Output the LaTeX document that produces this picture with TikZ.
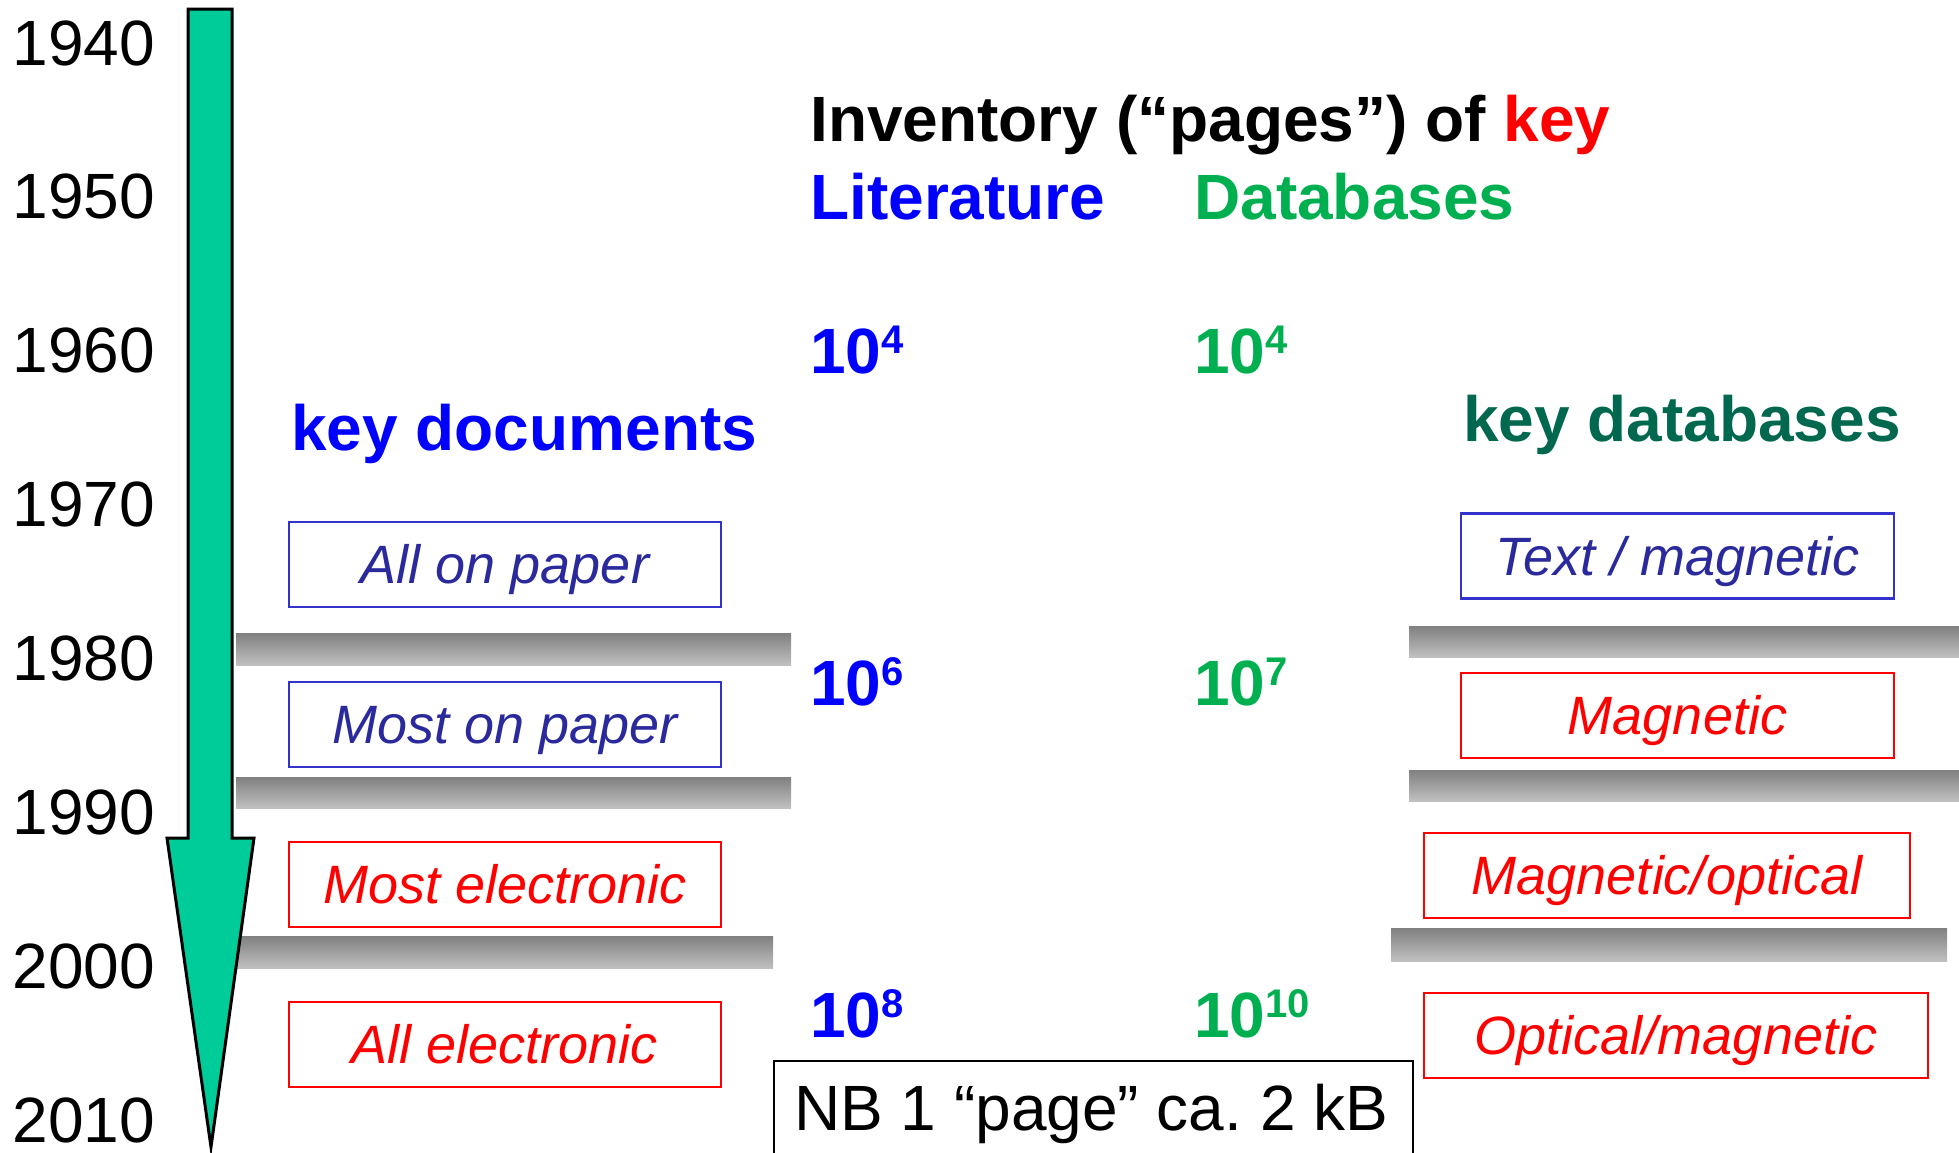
\documentclass[tikz,border=0pt]{standalone}
\usepackage{fontspec}
\setmainfont{Liberation Sans}
\frenchspacing
\definecolor{arrowgreen}{RGB}{0,204,153}
\definecolor{litblue}{RGB}{0,0,255}
\definecolor{dbgreen}{RGB}{0,176,80}
\definecolor{keygreen}{RGB}{0,104,78}
\definecolor{boxblue}{RGB}{51,51,204}
\definecolor{boxtext}{RGB}{42,42,156}
\definecolor{bartop}{RGB}{128,128,128}
\definecolor{barbot}{RGB}{192,192,192}
\newcommand{\bigf}{\fontsize{64}{64}\selectfont}
\newcommand{\boxf}{\fontsize{54}{54}\selectfont\itshape}
\newcommand{\supf}{\fontsize{40}{40}\selectfont}
\newcommand{\pw}[1]{10\raisebox{20pt}{\supf #1}}
\tikzset{
  year/.style={anchor=base east, inner sep=0pt, font=\bigf},
  head/.style={anchor=base west, inner sep=0pt, font=\bigf\bfseries},
  bluebox/.style={draw=boxblue, line width=2.5pt, text=boxtext, font=\boxf, inner sep=0pt, minimum height=85pt, text height=38pt, text depth=0pt},
  redbox/.style={draw=red, line width=2.5pt, text=red, font=\boxf, inner sep=0pt, minimum height=85pt, text height=38pt, text depth=0pt},
  graybar/.style={top color=bartop, bottom color=barbot, draw=none}
}
\begin{document}
\begin{tikzpicture}[x=1pt,y=-1pt]
\useasboundingbox (0,0) rectangle (1959,1152);
% years
\foreach \yr [count=\i from 0] in {1940,1950,1960,1970,1980,1990,2000,2010}{
  \node[year] (y\yr) at (155,{65+153.9*\i}) {\yr};
}
% gray bars
\shade[graybar] (236,633) rectangle (791,665);
\shade[graybar] (236,777) rectangle (791,808);
\shade[graybar] (237,936) rectangle (773,968);
\shade[graybar] (1409,626) rectangle (1959,657);
\shade[graybar] (1409,770) rectangle (1959,801);
\shade[graybar] (1391,928) rectangle (1947,961);
% arrow
\draw[fill=arrowgreen, line width=3pt, line join=miter]
  (188,9) -- (232,9) -- (232,838) -- (254,838) -- (211,1147) -- (167,838) -- (188,838) -- cycle;
% headings
\node[head] (inv) at (810,141) {Inventory (“pages”) of \textcolor{red}{key}};
\node[head, text=litblue] (lit) at (810,219) {Literature};
\node[head, text=dbgreen] (db) at (1194,219) {Databases};
\node[head, text=litblue] (l4) at (810,373) {\pw{4}};
\node[head, text=dbgreen] (d4) at (1194,373) {\pw{4}};
\node[head, text=litblue] (l6) at (810,705) {\pw{6}};
\node[head, text=dbgreen] (d7) at (1194,705) {\pw{7}};
\node[head, text=litblue] (l8) at (810,1037) {\pw{8}};
\node[head, text=dbgreen] (d10) at (1194,1037) {\pw{10}};
\node[head, text=litblue] (kdoc) at (291,450) {key documents};
\node[head, text=keygreen] (kdb) at (1463,441) {key databases};
% left boxes
\node[bluebox, minimum width=432pt] (b1) at (505,564.5) {All on paper};
\node[bluebox, minimum width=432pt] (b2) at (505,724.5) {Most on paper};
\node[redbox, minimum width=432pt] (b3) at (505,884.5) {Most electronic};
\node[redbox, minimum width=432pt] (b4) at (505,1044.5) {All electronic};
% right boxes
\node[bluebox, minimum width=433pt] (r1) at (1677.5,556) {Text / magnetic};
\node[redbox, minimum width=433pt] (r2) at (1677.5,715.5) {Magnetic};
\node[redbox, minimum width=486pt] (r3) at (1667,875.5) {Magnetic/optical};
\node[redbox, minimum width=504pt] (r4) at (1676,1035.5) {Optical/magnetic};
% NB box
\node[draw=black, line width=2pt, minimum width=639pt, minimum height=130pt, anchor=north west, inner sep=0pt] (nb) at (773,1060) {};
\node[anchor=base west, inner sep=0pt, font=\bigf] (nbt) at (794,1130) {NB 1 “page” ca. 2 kB};
\end{tikzpicture}
\end{document}
